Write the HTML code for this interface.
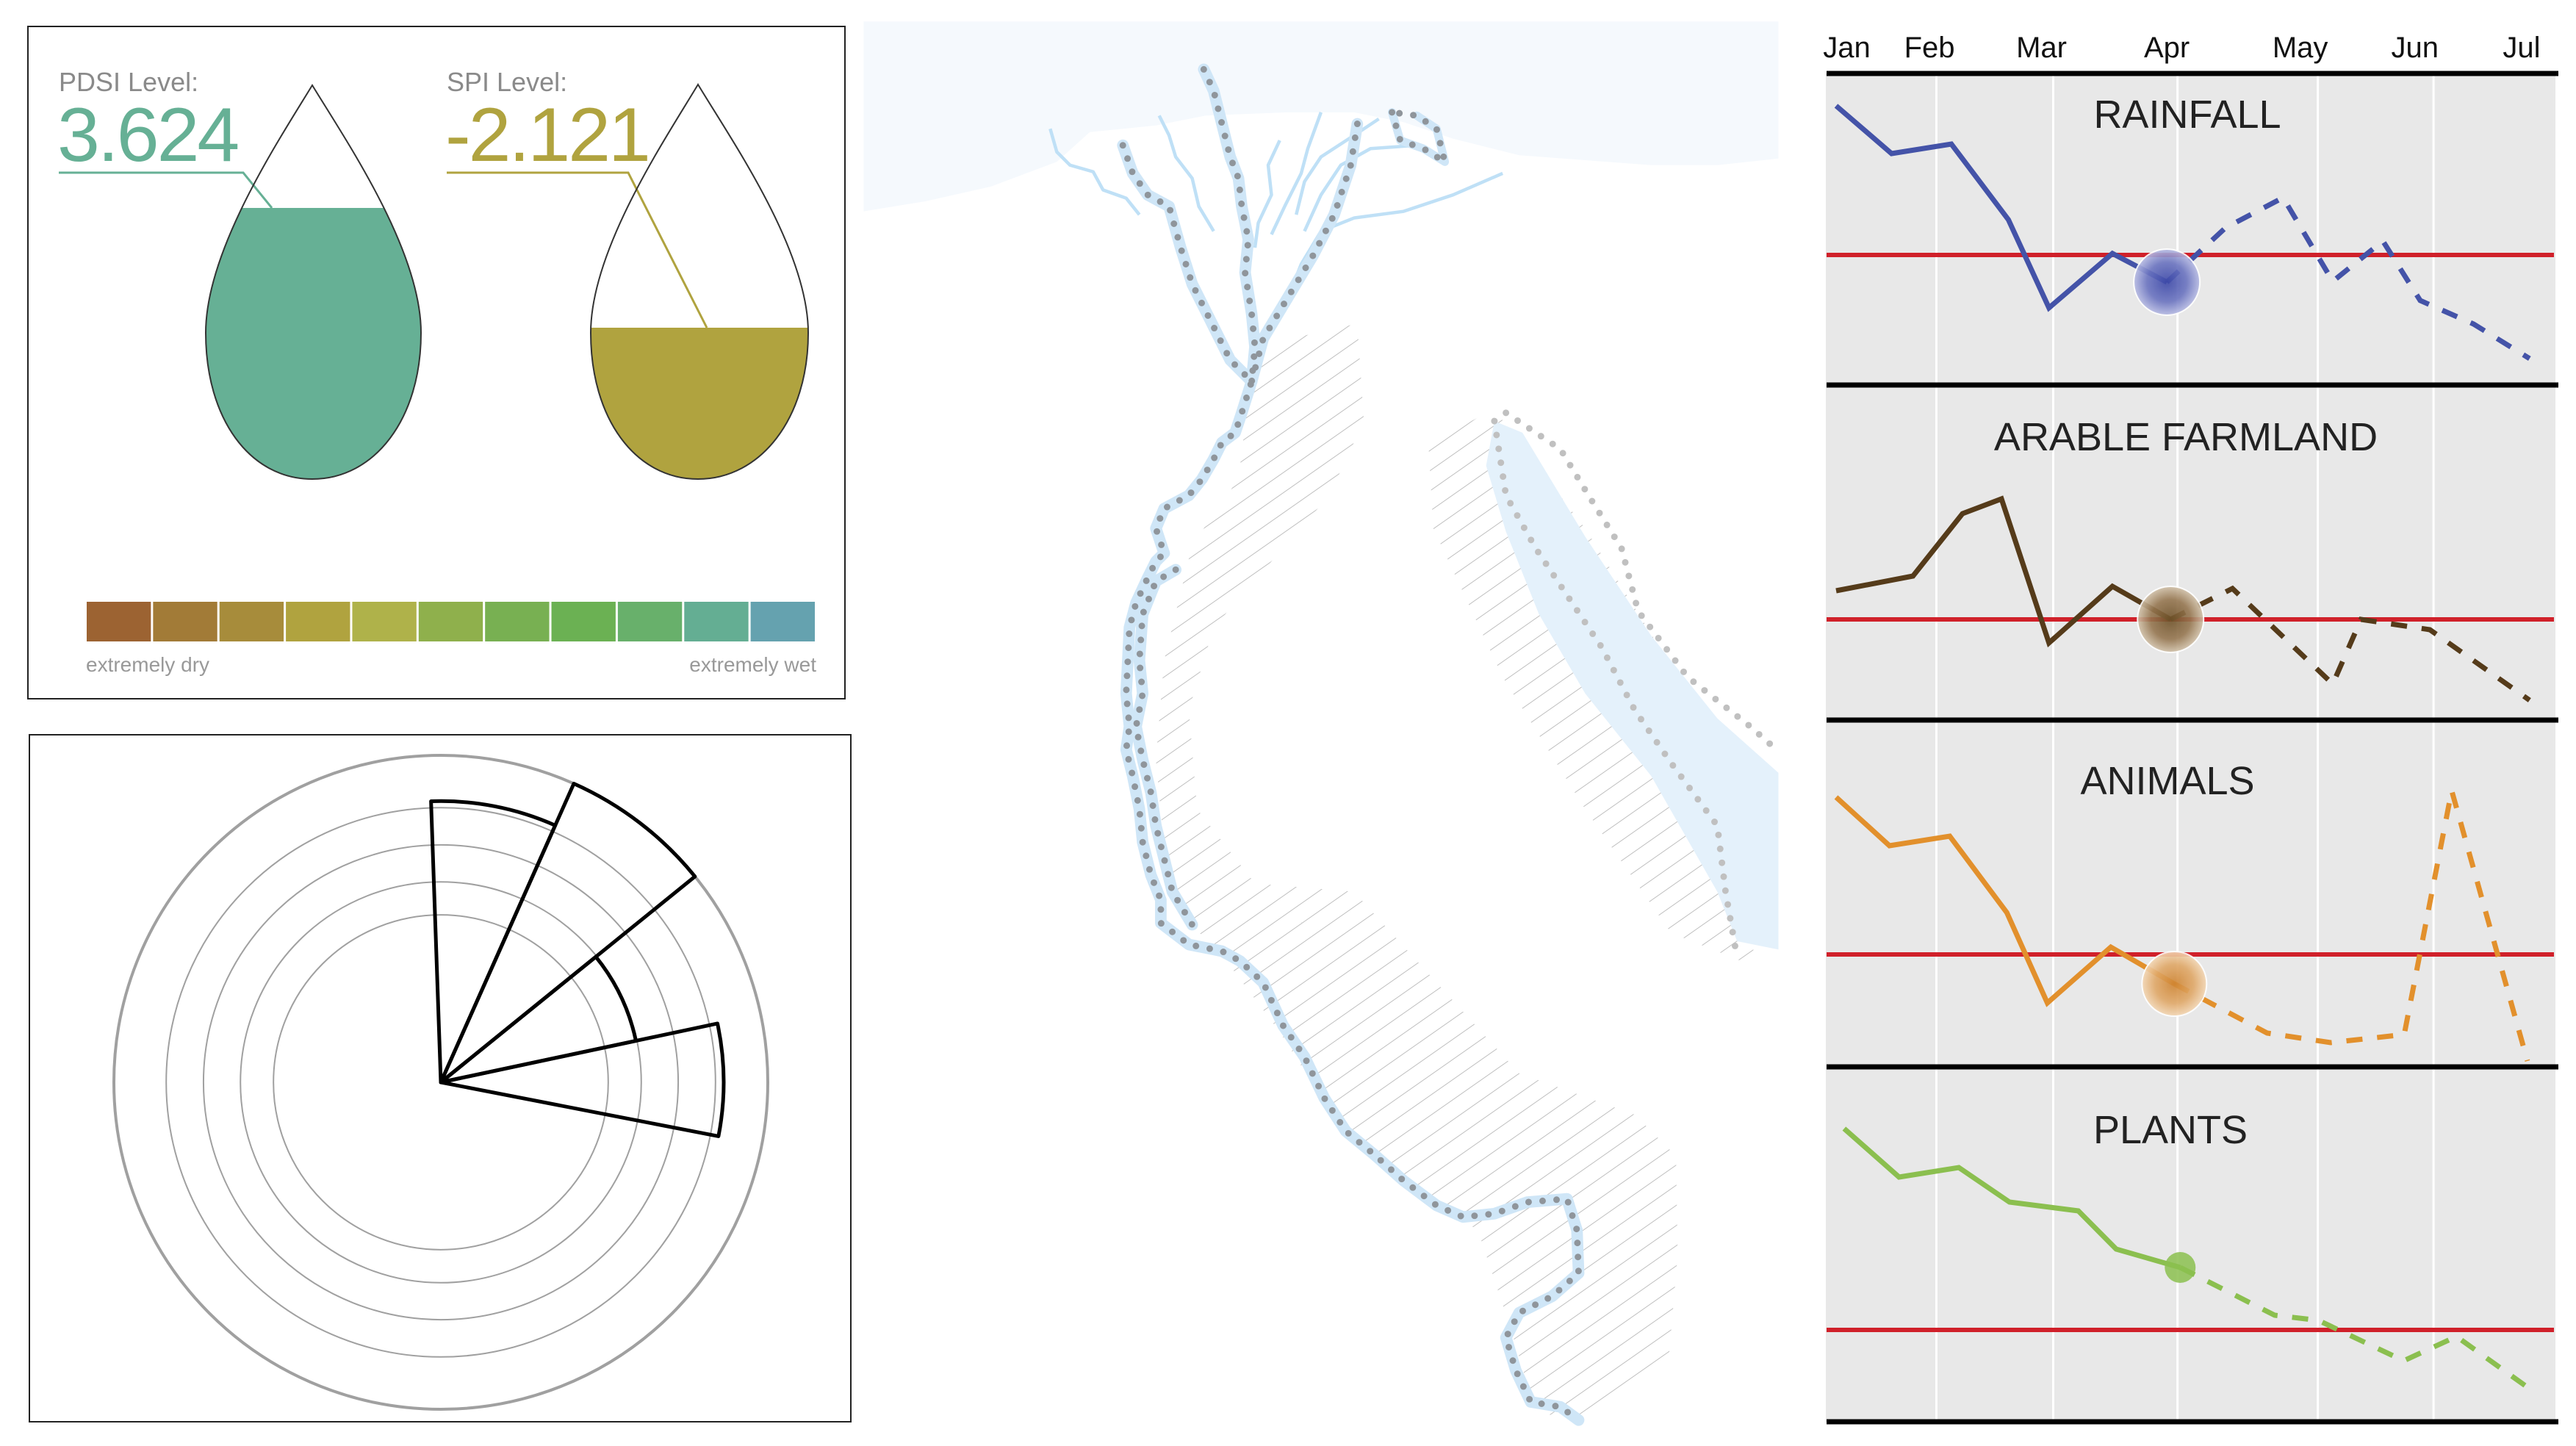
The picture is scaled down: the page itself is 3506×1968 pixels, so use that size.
<!DOCTYPE html>
<html><head><meta charset="utf-8">
<style>
html,body{margin:0;padding:0;background:#fff;}
svg{display:block;font-family:"Liberation Sans",sans-serif;}
</style></head>
<body>
<svg id="root" width="3506" height="1968" viewBox="0 0 3506 1968" xmlns="http://www.w3.org/2000/svg">
<defs>
  <clipPath id="drop1clip"><rect x="200" y="283" width="450" height="400"/></clipPath>
  <clipPath id="drop2clip"><rect x="780" y="446" width="350" height="240"/></clipPath>
  <pattern id="hatch" patternUnits="userSpaceOnUse" width="10" height="10" patternTransform="rotate(55)">
    <line x1="0" y1="0" x2="0" y2="10" stroke="#b8b8b8" stroke-width="0.8"/>
  </pattern>
  <radialGradient id="gBlue"><stop offset="0" stop-color="#3c48a8"/><stop offset="0.6" stop-color="#6b74c0"/><stop offset="1" stop-color="#b8bce4"/></radialGradient>
  <radialGradient id="gBrown"><stop offset="0" stop-color="#6e5128"/><stop offset="0.6" stop-color="#957650"/><stop offset="1" stop-color="#d2c2aa"/></radialGradient>
  <radialGradient id="gOrange"><stop offset="0" stop-color="#cf8431"/><stop offset="0.6" stop-color="#e0a868"/><stop offset="1" stop-color="#f3d7b5"/></radialGradient>
</defs>

<!-- Top-left drought panel -->
<g>
  <rect x="38" y="36" width="1112" height="915" fill="#fff" stroke="#222" stroke-width="2"/>
  <text x="80" y="124" font-size="36" fill="#8a8a8a">PDSI Level:</text>
  <text x="78" y="219" font-size="104" fill="#66b095" letter-spacing="-3">3.624</text>
  <polyline points="80,235 331,235 370,283" fill="none" stroke="#66b095" stroke-width="3"/>
  <text x="608" y="124" font-size="36" fill="#8a8a8a">SPI Level:</text>
  <text x="606" y="219" font-size="104" fill="#b0a33f" letter-spacing="-3">-2.121</text>
  <polyline points="608,235 855,235 962,446" fill="none" stroke="#b0a33f" stroke-width="3"/>

  <path d="M425,116 C470,190 573,340 573,453 C573,570 510,652 425,652 C340,652 280,570 280,453 C280,340 380,190 425,116 Z" fill="#66b095" clip-path="url(#drop1clip)"/>
  <path d="M425,116 C470,190 573,340 573,453 C573,570 510,652 425,652 C340,652 280,570 280,453 C280,340 380,190 425,116 Z" fill="none" stroke="#333" stroke-width="2"/>
  <path d="M950,115 C995,190 1100,340 1100,453 C1100,570 1035,652 950,652 C865,652 804,570 804,453 C804,340 905,190 950,115 Z" fill="#b0a33f" clip-path="url(#drop2clip)"/>
  <path d="M950,115 C995,190 1100,340 1100,453 C1100,570 1035,652 950,652 C865,652 804,570 804,453 C804,340 905,190 950,115 Z" fill="none" stroke="#333" stroke-width="2"/>

  <g id="colorbar"></g>
  <text x="117" y="914" font-size="28" fill="#999">extremely dry</text>
  <text x="1111" y="914" font-size="28" fill="#999" text-anchor="end">extremely wet</text>
</g>

<!-- Bottom-left polar panel -->
<g>
  <rect x="40" y="1000" width="1118" height="935" fill="#fff" stroke="#222" stroke-width="2"/>
  <g id="polar"></g>
</g>

<!-- Map -->
<g transform="scale(2.2474)">
  <path d="M523,13 L1077,13 L1077,96 L1040,100 L1000,100 L960,97 L920,94 L880,84 L850,74 L820,68 L780,68 L730,70 L700,76 L660,80 L640,98 L600,113 L560,122 L523,128 Z" fill="#f5f9fd"/>
  <path d="M760,210 L822,196 L826,255 L805,300 L770,340 L735,380 L720,430 L725,490 L760,535 L820,540 L870,595 L920,650 L990,675 L1015,700 L1016,760 L1010,830 L965,862 L930,855 L915,805 L895,745 L845,712 L805,672 L775,625 L745,585 L708,545 L700,460 L705,400 L722,330 L750,290 Z" fill="url(#hatch)"/>
  <path d="M865,268 L905,248 L960,320 L1010,400 L1060,470 L1062,585 L1012,565 L960,490 L910,410 L868,320 Z" fill="url(#hatch)"/>
  <path d="M905,255 L922,262 L960,325 L1000,385 L1040,435 L1077,468 L1077,575 L1052,570 L1040,540 L1000,470 L960,420 L932,372 L912,322 L900,282 Z" fill="#e4f1fb"/>
  <g fill="none" stroke="#bfe0f6" stroke-width="2" stroke-linejoin="round">
    <path d="M636,78 L640,92 L648,100 L662,104 L668,115 L682,120 L690,130"/>
    <path d="M702,70 L708,82 L712,95 L722,108 L726,125 L735,140"/>
    <path d="M775,85 L768,100 L770,118 L762,135 L760,150"/>
    <path d="M800,68 L792,90 L788,105 L778,125 L770,142"/>
    <path d="M858,88 L830,90 L812,100 L800,118 L790,140"/>
    <path d="M910,105 L880,118 L850,128 L820,132 L800,140 L788,160 L780,180"/>
    <path d="M835,72 L820,82 L800,95 L790,110 L785,130"/>
  </g>
  <g fill="none" stroke-linecap="round" stroke-linejoin="round" stroke="#cfe6f7" stroke-width="7">
    <path d="M729,42 L735,55 740,75 745,95 750,108 752,125 756,145 754,165 758,190 760,210 758,231 752,250 748,262 740,268 735,278 728,290 720,300 705,308 700,320 705,335 700,340 695,350 688,365 684,380 683,400 682,420 684,440 682,454 686,470 690,490 692,510 697,530 703,545 703,559 720,572 740,576 751,582 765,595 777,621 790,640 802,665 815,685 832,699 850,715 870,730 886,737 905,735 925,728 949,726 955,745 956,771 940,785 920,795 912,810 918,830 927,849 945,852 956,860"/>
    <path d="M680,88 L686,105 L695,118 L708,125 L715,150 L722,172 L732,192 L745,218 L758,231"/>
    <path d="M822,75 L818,100 L808,130 L795,155 L780,180 L765,205 L758,231"/>
    <path d="M712,345 L700,352 L692,372 L690,400 L692,420 L688,440 L692,460 L697,480 L700,500 L705,520 L710,540 L722,560"/>
    <path d="M843,68 L848,85 L862,90 L875,98 L870,78 L858,70" stroke-width="5"/>
  </g>
  <g fill="none" stroke="#8f959b" stroke-width="4" stroke-dasharray="0 8.5" stroke-linecap="round">
    <path d="M729,42 L735,55 740,75 745,95 750,108 752,125 756,145 754,165 758,190 760,210 758,231 752,250 748,262 740,268 735,278 728,290 720,300 705,308 700,320 705,335 700,340 695,350 688,365 684,380 683,400 682,420 684,440 682,454 686,470 690,490 692,510 697,530 703,545 703,559 720,572 740,576 751,582 765,595 777,621 790,640 802,665 815,685 832,699 850,715 870,730 886,737 905,735 925,728 949,726 955,745 956,771 940,785 920,795 912,810 918,830 927,849 945,852 956,860"/>
    <path d="M680,88 L686,105 L695,118 L708,125 L715,150 L722,172 L732,192 L745,218 L758,231"/>
    <path d="M822,75 L818,100 L808,130 L795,155 L780,180 L765,205 L758,231"/>
    <path d="M712,345 L700,352 L692,372 L690,400 L692,420 L688,440 L692,460 L697,480 L700,500 L705,520 L710,540 L722,560"/>
    <path d="M843,68 L848,85 L862,90 L875,98 L870,78 L858,70 L843,68"/>
  </g>
  <g fill="none" stroke="#c0c0c0" stroke-width="4" stroke-dasharray="0 8.5" stroke-linecap="round">
    <path d="M905,255 L912,300 L930,332 L950,362 L970,392 L990,430 L1012,462 L1040,500 L1045,540 L1052,580"/>
    <path d="M912,250 L945,272 L962,300 L982,332 L992,370 L1022,410 L1060,440 L1077,455"/>
  </g>
</g>

<!-- Right line charts -->
<g id="charts">
  <rect x="2485" y="100" width="993" height="1835" fill="#e8e8e8"/>
</g>

<script>
// ---------- colour scale ----------
var scaleColors = ["#9c6332","#a27b37","#a78c3b","#b0a33f","#afb24a","#8fb04c","#78b052","#6bb153","#68b06b","#64ae93","#65a2af"];
// ---------- polar chart data ----------
var sectorStart = [-2, 24, 51, 78];
var sectorEnd = [24, 51, 78, 101];
var sectorValue = [0.86, 1.0, 0.61, 0.865];
var ringValues = [0.512, 0.613, 0.726, 0.84, 1.0];
// ---------- line chart data ----------
var months = ["Jan","Feb","Mar","Apr","May","Jun","Jul"];
var monthPos = [0.2, 1.75, 3.85, 6.2, 8.7, 10.85, 12.85];
var gridPos = [1.88, 4.07, 6.4, 9.03, 11.2];
var panelTitles = ["RAINFALL","ARABLE FARMLAND","ANIMALS","PLANTS"];
var rainT = [0,1.04,2.16,3.23,3.99,5.18,6.2];
var rainV = [2.03,1.38,1.51,0.48,-0.72,0.02,-0.37];
var rainFT = [6.2,7.3,8.38,9.31,10.25,10.95,11.95,13];
var rainFV = [-0.37,0.37,0.78,-0.36,0.19,-0.62,-0.94,-1.41];
var arabT = [0,1.44,2.37,3.1,3.99,5.18,6.27];
var arabV = [0.39,0.59,1.44,1.64,-0.32,0.45,0];
var arabFT = [6.27,7.43,9.31,9.84,11.13,13];
var arabFV = [0,0.42,-0.88,0,-0.14,-1.1];
var animT = [0,1,2.13,3.2,3.96,5.15,6.34];
var animV = [2.14,1.48,1.61,0.57,-0.66,0.1,-0.4];
var animFT = [6.34,8.08,9.27,10.65,11.54,12.96];
var animFV = [-0.4,-1.07,-1.2,-1.09,2.23,-1.45];
var plantT = [0.15,1.18,2.3,3.25,4.54,5.25,6.45];
var plantV = [2.74,2.08,2.21,1.74,1.62,1.1,0.85];
var plantFT = [6.45,8.22,9.04,10.64,11.63,12.96];
var plantFV = [0.85,0.2,0.13,-0.42,-0.09,-0.78];

var NS = "http://www.w3.org/2000/svg";
function mk(tag, attrs, parent){var e=document.createElementNS(NS,tag);for(var k in attrs)e.setAttribute(k,attrs[k]);parent.appendChild(e);return e;}

// colour bar
var cb = document.getElementById("colorbar");
var cbX0 = 117, cbW = (1111-117)/scaleColors.length;
scaleColors.forEach(function(c,i){
  var r = mk("rect",{x:cbX0+i*cbW+1,y:819,width:cbW-3,height:54,fill:c},cb);
  
  
});

// polar
var pg = document.getElementById("polar");
var pcx = 600, pcy = 1473, pR = 445;
function rad(v){return v*pR;}
function pt(a,r){var t=a*Math.PI/180;return [pcx+r*Math.sin(t), pcy-r*Math.cos(t)];}
ringValues.forEach(function(v,i){
  var c = mk("circle",{cx:pcx,cy:pcy,r:rad(v),fill:"none",stroke:"#a0a0a0","stroke-width":(i==ringValues.length-1?4:2)},pg);
  
  
});
sectorValue.forEach(function(v,i){
  var r = rad(v), p1 = pt(sectorStart[i],r), p2 = pt(sectorEnd[i],r);
  var d = "M"+pcx+","+pcy+" L"+p1[0]+","+p1[1]+" A"+r+","+r+" 0 0 1 "+p2[0]+","+p2[1]+" Z";
  var s = mk("path",{d:d,fill:"none",stroke:"#000","stroke-width":5,"stroke-linejoin":"round"},pg);
  
  
});

// line charts
var ch = document.getElementById("charts");
var X0 = 2499, XS = 72.6;
function xS(t){return X0 + t*XS;}
var baseY = [347, 843, 1299, 1810];
var titleY = [174, 613, 1081, 1556];
var titleX = [2977, 2975, 2950, 2954];
var unit = 100;
function yS(p,v){return baseY[p] - v*unit;}
gridPos.forEach(function(g){
  var l = mk("line",{x1:xS(g),x2:xS(g),y1:100,y2:1935,stroke:"#fff","stroke-width":3},ch);
  
  
});
months.forEach(function(m,i){
  var t = mk("text",{x:xS(monthPos[i]),y:78,"font-size":40,fill:"#111","text-anchor":"middle"},ch);
  t.textContent = m;
  
  
});
[100,524,980,1452,1935].forEach(function(y){
  var l = mk("line",{x1:2486,x2:3482,y1:y,y2:y,stroke:"#000","stroke-width":7},ch);
  
  
});
var series = [
  {t:rainT,v:rainV,ft:rainFT,fv:rainFV,c:"#4453a8",g:"url(#gBlue)",r:45},
  {t:arabT,v:arabV,ft:arabFT,fv:arabFV,c:"#553b1a",g:"url(#gBrown)",r:45},
  {t:animT,v:animV,ft:animFT,fv:animFV,c:"#e2902c",g:"url(#gOrange)",r:44},
  {t:plantT,v:plantV,ft:plantFT,fv:plantFV,c:"#8bbf4f",g:"#8bbf4f",r:21}
];
series.forEach(function(s,p){
  var tt = mk("text",{x:titleX[p],y:titleY[p],"font-size":54,fill:"#222","text-anchor":"middle"},ch);
  tt.textContent = panelTitles[p];
  
  
  var red = mk("line",{x1:2486,x2:3476,y1:yS(p,0),y2:yS(p,0),stroke:"#d0202a","stroke-width":6},ch);
  
  
  var pts = s.t.map(function(t,i){return xS(t)+","+yS(p,s.v[i]);}).join(" ");
  var line = mk("polyline",{points:pts,fill:"none",stroke:s.c,"stroke-width":7,"stroke-linejoin":"miter"},ch);
  
  
  var fpts = s.ft.map(function(t,i){return xS(t)+","+yS(p,s.fv[i]);}).join(" ");
  var fl = mk("polyline",{points:fpts,fill:"none",stroke:s.c,"stroke-width":7,"stroke-dasharray":"22 20"},ch);
  
  
  var last = s.t.length-1;
  var cc = mk("circle",{cx:xS(s.t[last]),cy:yS(p,s.v[last]),r:s.r,fill:s.g,stroke:"#fff","stroke-width":(p==3?0:2),opacity:(p==3?0.85:0.9)},ch);
  
  
});
</script>
</svg>
</body></html>
